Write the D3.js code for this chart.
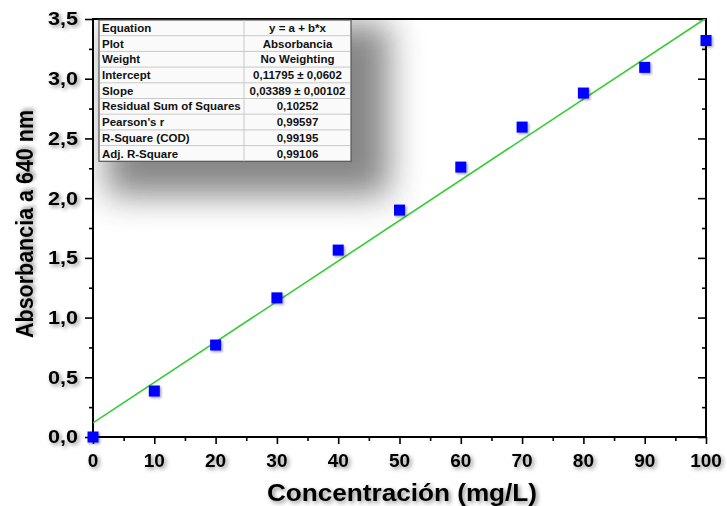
<!DOCTYPE html>
<html>
<head>
<meta charset="utf-8">
<script src="https://cdn.jsdelivr.net/npm/d3@7"></script>
<style>
  html, body { margin: 0; padding: 0; background: #fff; }
  svg { display: block; font-family: "Liberation Sans", Arial, sans-serif; }
</style>
</head>
<body>
<svg id="chart" width="727" height="506"></svg>
<script>
// Calibration data: concentration (mg/L) vs absorbance at 640 nm
const concentration = [0, 10, 20, 30, 40, 50, 60, 70, 80, 90, 100];
const absorbance = [0.0, 0.385, 0.77, 1.165, 1.565, 1.90, 2.26, 2.595, 2.88, 3.095, 3.32];

// Linear fit parameters
const intercept = 0.11795;
const slope = 0.03389;

// Fit summary table
const tableLabels = ["Equation", "Plot", "Weight", "Intercept", "Slope",
  "Residual Sum of Squares", "Pearson's r", "R-Square (COD)", "Adj. R-Square"];
const tableValues = ["y = a + b*x", "Absorbancia", "No Weighting",
  "0,11795 \u00b1 0,0602", "0,03389 \u00b1 0,00102", "0,10252", "0,99597", "0,99195", "0,99106"];

const xTicks = [0, 10, 20, 30, 40, 50, 60, 70, 80, 90, 100];
const yTicks = [0, 0.5, 1.0, 1.5, 2.0, 2.5, 3.0, 3.5];

const svg = d3.select("#chart");
const m = { left: 93, right: 706, top: 19, bottom: 437 };

const x = d3.scaleLinear().domain([0, 100]).range([m.left, m.right]);
const y = d3.scaleLinear().domain([0, 3.5]).range([m.bottom, m.top]);
const fmt = d => d3.format(".1f")(d).replace(".", ",");

const defs = svg.append("defs");
const ts = defs.append("filter").attr("id", "textShadow")
  .attr("x", "-20%").attr("y", "-40%").attr("width", "160%").attr("height", "200%");
ts.append("feDropShadow").attr("dx", 2).attr("dy", 2).attr("stdDeviation", 2.2)
  .attr("flood-color", "#000").attr("flood-opacity", 0.45);

const bigShadow = defs.append("filter").attr("id", "boxShadow")
  .attr("x", "-40%").attr("y", "-40%").attr("width", "180%").attr("height", "180%");
bigShadow.append("feGaussianBlur").attr("stdDeviation", 17);

const markShadow = defs.append("filter").attr("id", "markShadow")
  .attr("x", "-50%").attr("y", "-50%").attr("width", "200%").attr("height", "200%");
markShadow.append("feDropShadow").attr("dx", 1.5).attr("dy", 1.5).attr("stdDeviation", 1.2)
  .attr("flood-color", "#000").attr("flood-opacity", 0.35);

defs.append("clipPath").attr("id", "plotClip").append("rect")
  .attr("x", m.left).attr("y", m.top)
  .attr("width", m.right - m.left).attr("height", m.bottom - m.top);

// Table shadow inside the plot frame
const rowH = 15.7;
const tbl = { x: 99, y: 20, w: 252, h: rowH * tableLabels.length };
svg.append("g").attr("clip-path", "url(#plotClip)")
  .append("rect")
  .attr("x", tbl.x + 8).attr("y", tbl.y + 4)
  .attr("width", tbl.w + 30).attr("height", tbl.h + 30)
  .attr("fill", "#444").attr("opacity", 0.65)
  .attr("filter", "url(#boxShadow)");

// Minor ticks
const yMinor = d3.range(0.25, 3.5, 0.5);
const xMinor = d3.range(5, 100, 10);

// Left axis
const gLeft = svg.append("g").attr("transform", `translate(${m.left},0)`)
  .call(d3.axisLeft(y).tickValues(yTicks).tickFormat("").tickSize(8));
gLeft.append("g").call(d3.axisLeft(y).tickValues(yMinor).tickFormat("").tickSize(4));
// Bottom axis
const gBottom = svg.append("g").attr("transform", `translate(0,${m.bottom})`)
  .call(d3.axisBottom(x).tickValues(xTicks).tickFormat("").tickSize(7));
gBottom.append("g").call(d3.axisBottom(x).tickValues(xMinor).tickFormat("").tickSize(4));
// Right axis with inward ticks
const gRight = svg.append("g").attr("transform", `translate(${m.right},0)`)
  .call(d3.axisLeft(y).tickValues(yTicks).tickFormat("").tickSize(8).tickSizeOuter(0));
gRight.append("g").call(d3.axisLeft(y).tickValues(yMinor).tickFormat("").tickSize(4).tickSizeOuter(0));

[gLeft, gBottom, gRight].forEach(g => {
  g.selectAll("path.domain").remove();
  g.selectAll("line").attr("stroke", "#000").attr("stroke-width", 1.6);
});

// Frame
svg.append("rect").attr("x", m.left).attr("y", m.top)
  .attr("width", m.right - m.left).attr("height", m.bottom - m.top)
  .attr("fill", "none").attr("stroke", "#000").attr("stroke-width", 2);

// Tick labels
svg.append("g").selectAll("text").data(yTicks).join("text")
  .attr("x", 78).attr("y", d => y(d)).attr("dy", "0.36em")
  .attr("text-anchor", "end").attr("font-size", 18).attr("font-weight", "bold")
  .attr("textLength", 30).attr("lengthAdjust", "spacingAndGlyphs")
  .attr("filter", "url(#textShadow)").text(fmt);

svg.append("g").selectAll("text").data(xTicks).join("text")
  .attr("x", d => x(d)).attr("y", 467)
  .attr("text-anchor", "middle").attr("font-size", 19).attr("font-weight", "bold")
  .attr("filter", "url(#textShadow)").text(d => d);

// Axis titles
svg.append("text").attr("x", 402).attr("y", 501)
  .attr("text-anchor", "middle").attr("font-size", 23.5).attr("font-weight", "bold")
  .attr("textLength", 270).attr("lengthAdjust", "spacingAndGlyphs")
  .attr("filter", "url(#textShadow)").text("Concentración (mg/L)");
svg.append("text").attr("transform", `translate(33,224) rotate(-90)`)
  .attr("text-anchor", "middle").attr("font-size", 24).attr("font-weight", "bold")
  .attr("textLength", 228).attr("lengthAdjust", "spacingAndGlyphs")
  .attr("filter", "url(#textShadow)").text("Absorbancia a 640 nm");

// Fit line
const plot = svg.append("g").attr("clip-path", "url(#plotClip)");
plot.append("line")
  .attr("x1", x(0)).attr("y1", y(intercept))
  .attr("x2", x(100)).attr("y2", y(intercept + slope * 100))
  .attr("stroke", "#33cc33").attr("stroke-width", 1.6);

// Data markers
const pts = concentration.map((c, i) => ({ c, a: absorbance[i] }));
svg.append("g").selectAll("rect").data(pts).join("rect")
  .attr("x", d => x(d.c) - 5.5).attr("y", d => y(d.a) - 5.5)
  .attr("width", 11).attr("height", 11)
  .attr("fill", "#0000ff").attr("filter", "url(#markShadow)");

// Fit summary table
const gT = svg.append("g");
gT.append("rect").attr("x", tbl.x).attr("y", tbl.y).attr("width", tbl.w).attr("height", tbl.h)
  .attr("fill", "#fafafa").attr("stroke", "#555").attr("stroke-width", 1.2);
const colSplit = 244;
gT.selectAll("line.row").data(d3.range(1, tableLabels.length)).join("line")
  .attr("x1", tbl.x + 1).attr("x2", tbl.x + tbl.w - 1)
  .attr("y1", i => tbl.y + i * rowH).attr("y2", i => tbl.y + i * rowH)
  .attr("stroke", "#c8c8c8").attr("stroke-width", 1);
gT.append("line").attr("x1", colSplit).attr("x2", colSplit)
  .attr("y1", tbl.y).attr("y2", tbl.y + tbl.h).attr("stroke", "#c8c8c8");
gT.selectAll("text.lab").data(tableLabels).join("text")
  .attr("x", tbl.x + 3).attr("y", (d, i) => tbl.y + (i + 0.5) * rowH).attr("dy", "0.36em")
  .attr("font-size", 11.5).attr("font-weight", "bold").attr("fill", "#111").text(d => d);
gT.selectAll("text.val").data(tableValues).join("text")
  .attr("x", (colSplit + tbl.x + tbl.w) / 2).attr("y", (d, i) => tbl.y + (i + 0.5) * rowH).attr("dy", "0.36em")
  .attr("text-anchor", "middle")
  .attr("font-size", 11.5).attr("font-weight", "bold").attr("fill", "#111").text(d => d);
</script>
</body>
</html>
